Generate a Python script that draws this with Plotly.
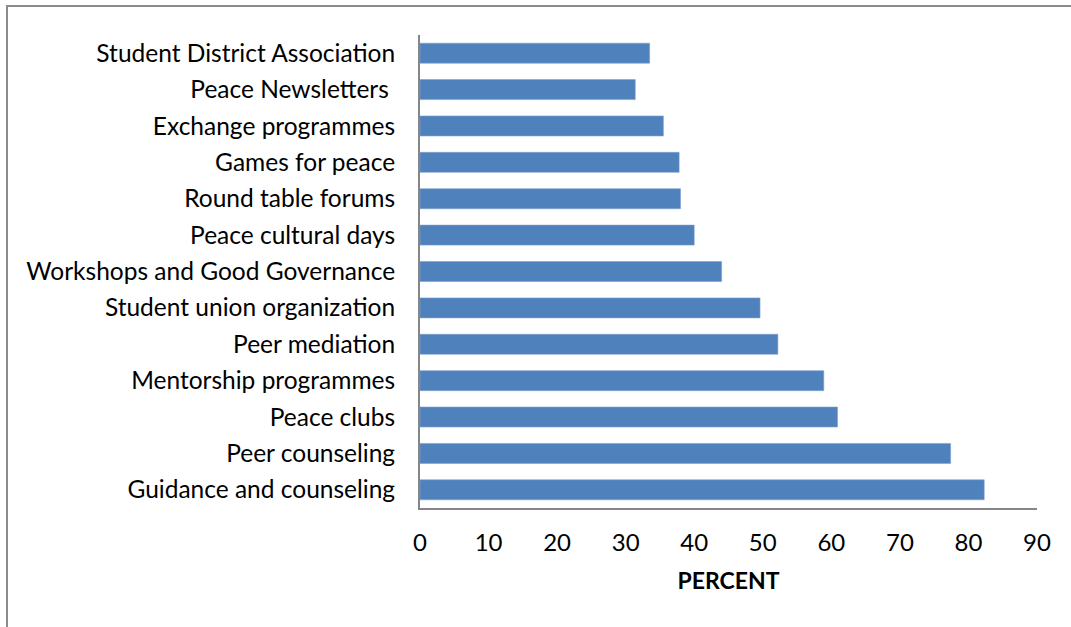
import plotly.graph_objects as go

categories = [
    "Student District Association",
    "Peace Newsletters ",
    "Exchange programmes",
    "Games for peace",
    "Round table forums",
    "Peace cultural days",
    "Workshops and Good Governance",
    "Student union organization",
    "Peer mediation",
    "Mentorship programmes",
    "Peace clubs",
    "Peer counseling",
    "Guidance and counseling",
]
percent = [33.5, 31.4, 35.5, 37.8, 38.0, 40.0, 44.0, 49.6, 52.2, 58.9, 60.9, 77.4, 82.3]
x_ticks = [0, 10, 20, 30, 40, 50, 60, 70, 80, 90]

W, H = 1071, 627
L, R, T, B = 420, 34, 35, 119
pw, ph = W - L - R, H - T - B

fig = go.Figure(go.Bar(
    x=percent, y=categories, orientation="h",
    marker=dict(color="#4F81BD", line=dict(color="#7FA1CF", width=0.6)),
))

font_family = "Lato, 'Open Sans', sans-serif"
fig.update_layout(
    width=W, height=H,
    margin=dict(l=L, r=R, t=T, b=B, autoexpand=False),
    paper_bgcolor="white", plot_bgcolor="white",
    bargap=0.45,
    showlegend=False,
    font=dict(family=font_family, size=24, color="black"),
    xaxis=dict(
        range=[0, 90], tickvals=x_ticks, showgrid=False, zeroline=False,
        showline=True, linecolor="#868686", linewidth=2,
        ticks="", ticklabelstandoff=12,
        title=dict(text="<b>PERCENT</b>", font=dict(size=23), standoff=18),
    ),
    yaxis=dict(
        autorange="reversed", showgrid=False, zeroline=False,
        showline=True, linecolor="#868686", linewidth=2,
        ticks="", ticklabelstandoff=18,
        tickfont=dict(size=24.5),
    ),
)

# outer chart border (left + top visible)
fig.add_shape(type="rect", xref="paper", yref="paper",
              x0=(7 - L) / pw, x1=(W + 5 - L) / pw,
              y0=(H - B - (H + 5)) / ph, y1=(H - B - 6) / ph,
              line=dict(color="#8C8C8C", width=2), fillcolor="rgba(0,0,0,0)",
              layer="below")

fig.write_html(
    "out.html",
    config={"displayModeBar": False},
    post_script="document.body.style.margin='0';document.body.style.overflow='hidden';",
)
